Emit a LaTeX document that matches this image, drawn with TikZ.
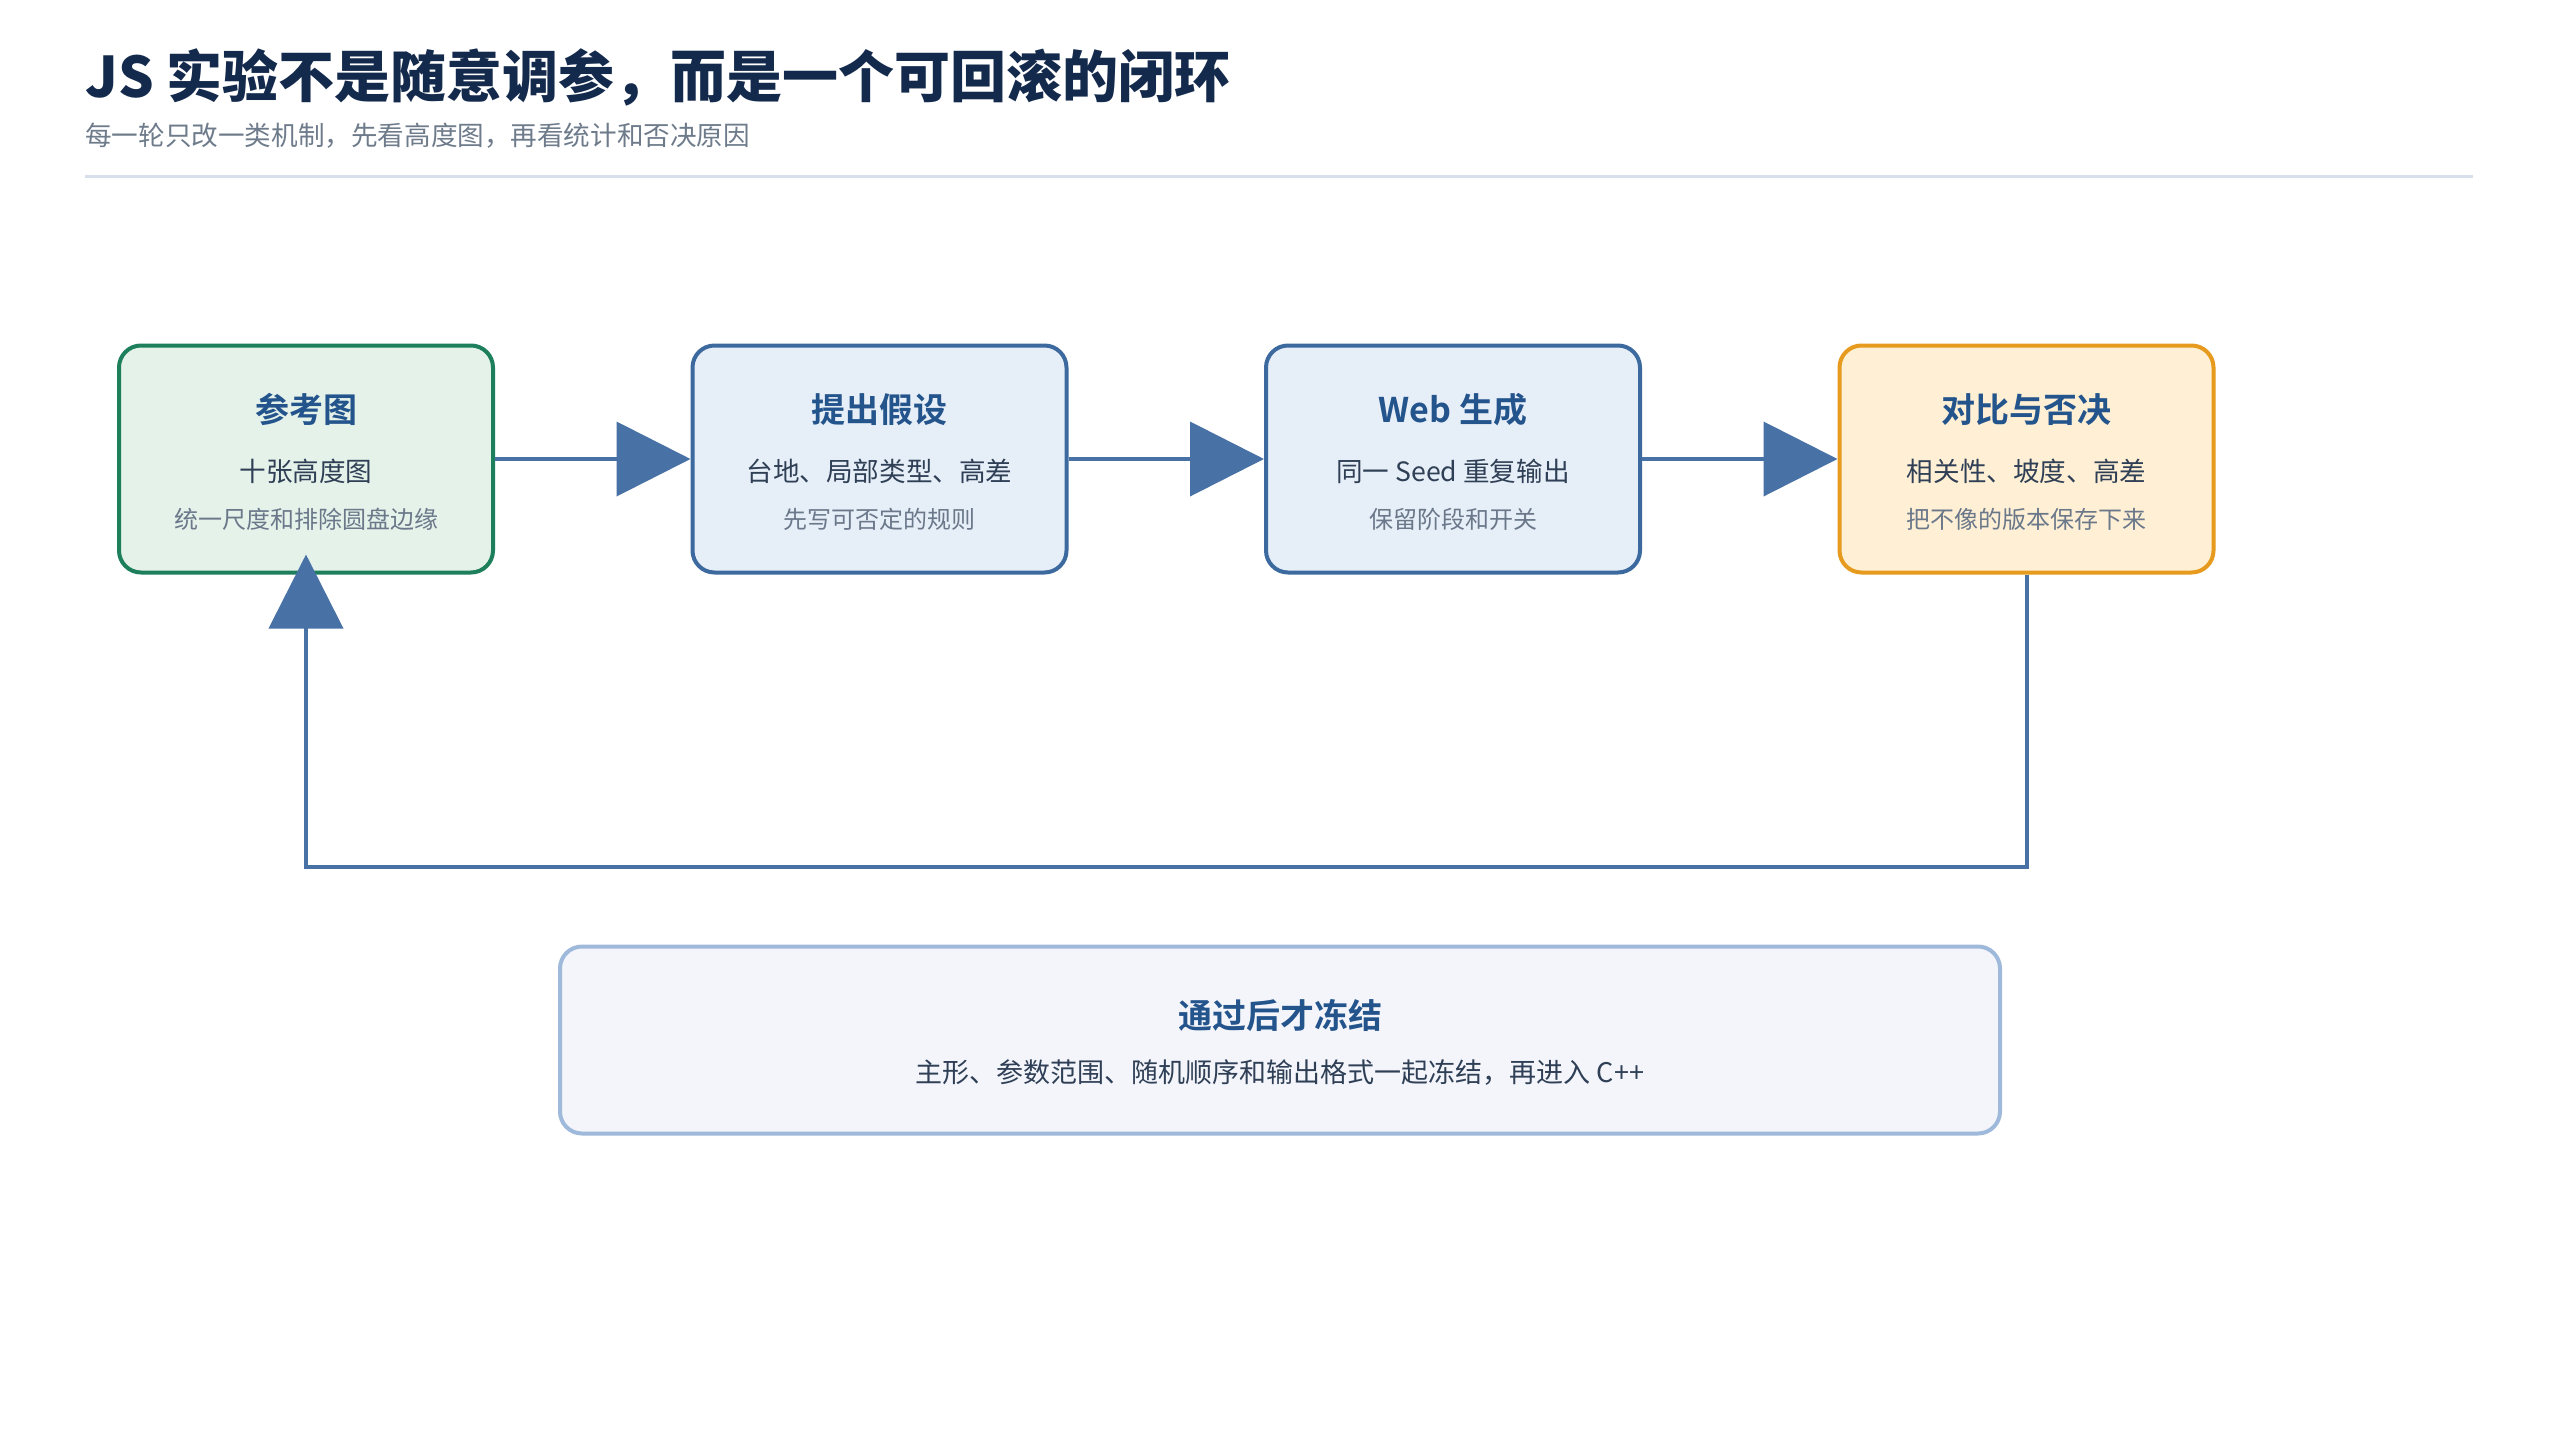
\documentclass[tikz,border=0pt]{standalone}
\usepackage{fontspec}
\setmainfont{Noto Sans CJK SC}[BoldFont={Noto Sans CJK SC Bold}]
\newfontfamily\heavyfont{Noto Sans CJK SC Black}
\usetikzlibrary{positioning,calc,arrows.meta}

\definecolor{navy}{HTML}{142A4C}
\definecolor{subgray}{HTML}{6E7B8B}
\definecolor{rulecol}{HTML}{D6DFEA}
\definecolor{greenline}{HTML}{1E7F5C}
\definecolor{greenfill}{HTML}{E5F2EA}
\definecolor{blueline}{HTML}{3C6A9F}
\definecolor{bluefill}{HTML}{E6EEF8}
\definecolor{orangeline}{HTML}{E69A1E}
\definecolor{orangefill}{HTML}{FFF0D5}
\definecolor{paleline}{HTML}{9FB9DA}
\definecolor{palefill}{HTML}{F3F5FB}
\definecolor{arrowcol}{HTML}{4871A5}
\definecolor{headblue}{HTML}{24548C}
\definecolor{bodydark}{HTML}{2F3F55}
\definecolor{bodygray}{HTML}{6A788A}

\tikzset{
  stepbox/.style 2 args={draw=#1,fill=#2,line width=4pt,rounded corners=22pt,
    minimum width=374pt,minimum height=227pt,inner sep=0pt},
  boxhead/.style={anchor=base,inner sep=0pt,text=headblue,font=\fontsize{34}{40}\selectfont\bfseries},
  boxmain/.style={anchor=base,inner sep=0pt,text=bodydark,font=\fontsize{26.6}{30}\selectfont},
  boxnote/.style={anchor=base,inner sep=0pt,text=bodygray,font=\fontsize{24}{28}\selectfont},
  flow/.style={draw=arrowcol,line width=4pt,-{Triangle[length=74pt,width=74pt]}}
}

\begin{document}
\begin{tikzpicture}[x=1pt,y=-1pt]
  \useasboundingbox[fill=white] (0,0) rectangle (2560,1440);

  % heading
  \node[anchor=base west,inner sep=0pt,text=navy,font=\fontsize{56}{62}\selectfont\heavyfont] (title) at (85,97) {JS 实验不是随意调参，而是一个可回滚的闭环};
  \node[anchor=base west,inner sep=0pt,text=subgray,font=\fontsize{26.6}{32}\selectfont] (subtitle) at (85,145) {每一轮只改一类机制，先看高度图，再看统计和否决原因};
  \draw[rulecol,line width=3pt] (85,176) -- (2473,176);

  % the four steps
  \node[stepbox={greenline}{greenfill}] (ref) at (306,459) {};
  \node[stepbox={blueline}{bluefill}] (hyp) [right=195.5pt of ref] {};
  \node[stepbox={blueline}{bluefill}] (web) [right=195.5pt of hyp] {};
  \node[stepbox={orangeline}{orangefill}] (cmp) [right=195.5pt of web] {};

  \node[boxhead] (refhead) at ($(ref.center)+(0,-37)$) {参考图};
  \node[boxmain] (refmain) at ($(ref.center)+(0,22)$) {十张高度图};
  \node[boxnote] (refnote) at ($(ref.center)+(0,69)$) {统一尺度和排除圆盘边缘};

  \node[boxhead] (hyphead) at ($(hyp.center)+(0,-37)$) {提出假设};
  \node[boxmain] (hypmain) at ($(hyp.center)+(0,22)$) {台地、局部类型、高差};
  \node[boxnote] (hypnote) at ($(hyp.center)+(0,69)$) {先写可否定的规则};

  \node[boxhead] (webhead) at ($(web.center)+(0,-37)$) {Web 生成};
  \node[boxmain] (webmain) at ($(web.center)+(0,22)$) {同一 Seed 重复输出};
  \node[boxnote] (webnote) at ($(web.center)+(0,69)$) {保留阶段和开关};

  \node[boxhead] (cmphead) at ($(cmp.center)+(0,-37)$) {对比与否决};
  \node[boxmain] (cmpmain) at ($(cmp.center)+(0,22)$) {相关性、坡度、高差};
  \node[boxnote] (cmpnote) at ($(cmp.center)+(0,69)$) {把不像的版本保存下来};

  % arrows
  \draw[flow] (ref.east) -- (hyp.west);
  \draw[flow] (hyp.east) -- (web.west);
  \draw[flow] (web.east) -- (cmp.west);
  \draw[flow,shorten >=-20pt] (cmp.south) -- ++(0,292) -| (ref.south);

  % freeze box
  \node[stepbox={paleline}{palefill},minimum width=1440pt,minimum height=187pt] (freeze) at (1280,1040) {};
  \node[boxhead] (freezehead) at ($(freeze.center)+(0,-12)$) {通过后才冻结};
  \node[boxmain,font=\fontsize{27}{32}\selectfont] (freezemain) at ($(freeze.center)+(0,42)$) {主形、参数范围、随机顺序和输出格式一起冻结，再进入 C++};
\end{tikzpicture}
\end{document}
